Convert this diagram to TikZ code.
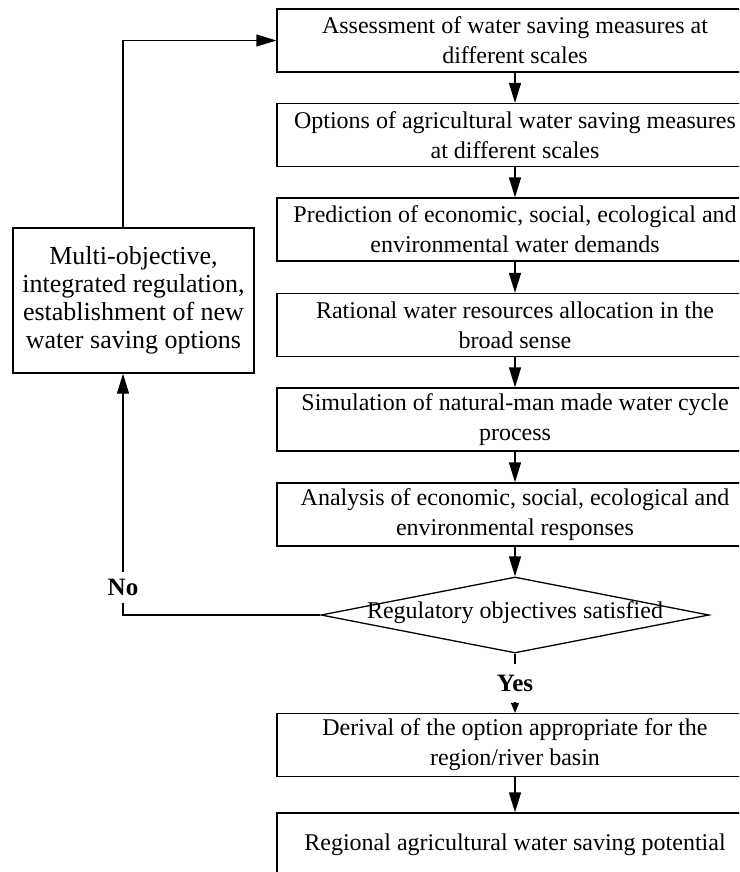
\documentclass[tikz,border=0pt]{standalone}
\usepackage{fontspec}
\setmainfont{Liberation Serif}
\usetikzlibrary{shapes.geometric,arrows.meta}
\begin{document}
\begin{tikzpicture}[x=1pt,y=-1pt,
  box/.style={draw, line width=1.3pt, minimum width=476pt, minimum height=63pt, align=center, inner sep=0pt, font=\fontsize{24}{30}\selectfont},
  arr/.style={line width=1.3pt, -{Triangle[length=20pt,width=12pt]}},
  lbl/.style={fill=white, inner sep=0pt, font=\fontsize{25}{30}\selectfont\bfseries}]
\path[use as bounding box, clip] (0,0) rectangle (739,872);
\node[box] (b1) at (515,40.5) {Assessment of water saving measures at\\different scales};
\node[box] (b2) at (515,135) {Options of agricultural water saving measures\\at different scales};
\node[box] (b3) at (515,229.5) {Prediction of economic, social, ecological and\\environmental water demands};
\node[box] (b4) at (515,325) {Rational water resources allocation in the\\broad sense};
\node[box] (b5) at (515,419.5) {Simulation of natural-man made water cycle\\process};
\node[box] (b6) at (515,514.5) {Analysis of economic, social, ecological and\\environmental responses};
\node[diamond, draw, line width=1.3pt, minimum width=388pt, minimum height=76pt, inner sep=0pt, aspect=5.1] (dia) at (515,615) {};
\node[inner sep=0pt, font=\fontsize{24}{30}\selectfont] (dtext) at (515,613) {Regulatory objectives satisfied};
\node[box] (b7) at (515,745) {Derival of the option appropriate for the\\region/river basin};
\node[box, minimum height=64pt] (b8) at (515,845) {Regional agricultural water saving potential};
\node[box, minimum width=241pt, minimum height=145pt, font=\fontsize{26}{28}\selectfont] (left) at (133.5,300.5) {Multi-objective,\\integrated regulation,\\establishment of new\\water saving options};
\draw[arr] (b1.south) -- (b2.north);
\draw[arr] (b2.south) -- (b3.north);
\draw[arr] (b3.south) -- (b4.north);
\draw[arr] (b4.south) -- (b5.north);
\draw[arr] (b5.south) -- (b6.north);
\draw[arr] (b6.south) -- (dia.north);
\draw[line width=1.3pt, -{Triangle[length=10pt,width=8pt]}] (dia.south) -- node[lbl, minimum height=38pt] (yes) {Yes} (b7.north);
\draw[arr] (b7.south) -- (b8.north);
\coordinate (c) at (123,615);
\draw[arr] (dia.west) -- (c) -- node[lbl, minimum height=31pt, pos=0.114] (no) {No} (c |- left.south);
\coordinate (lt) at (c |- left.north);
\draw[arr] (lt) |- (b1.west);
\end{tikzpicture}
\end{document}
